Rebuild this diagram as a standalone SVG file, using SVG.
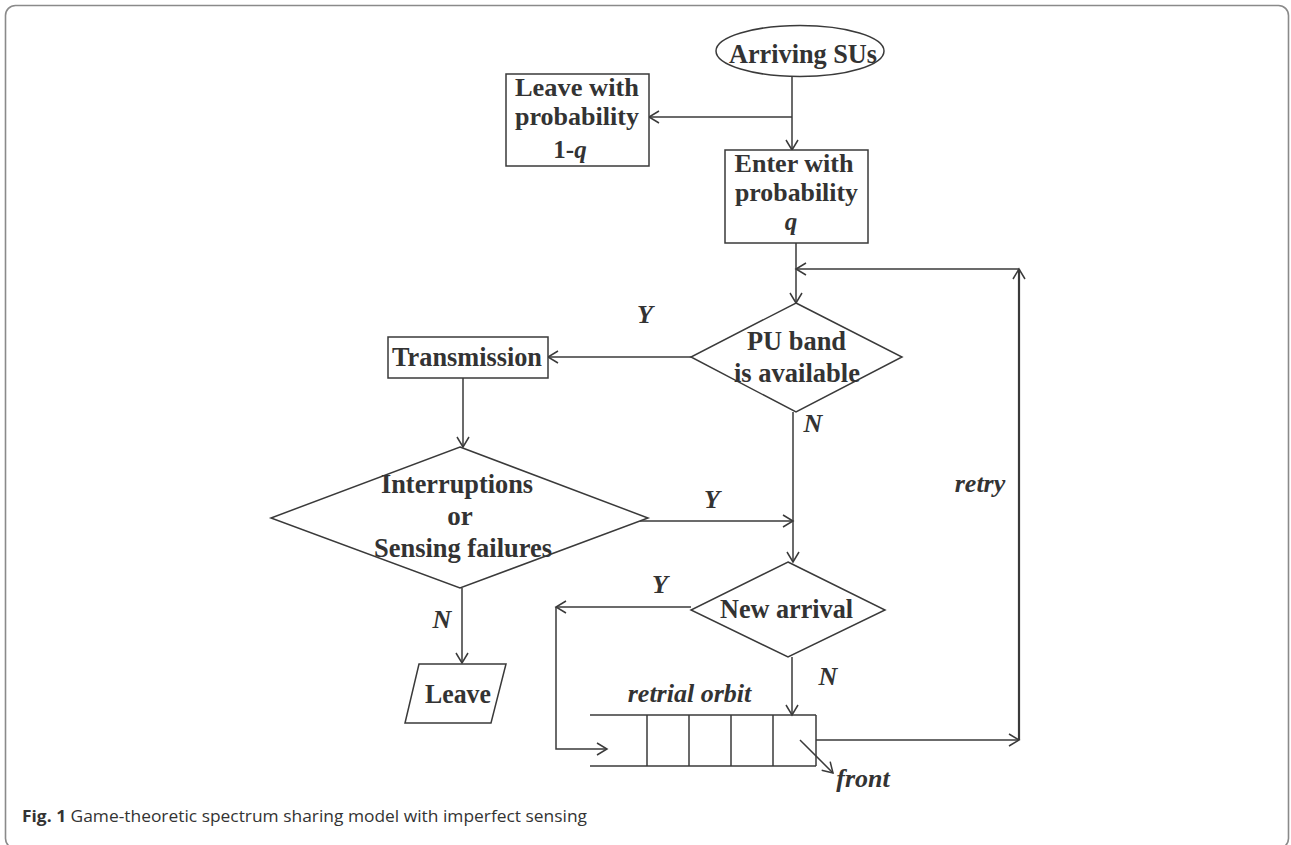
<svg xmlns="http://www.w3.org/2000/svg" width="1291" height="845" viewBox="0 0 1291 845">
<defs>
<marker id="arr" markerUnits="userSpaceOnUse" markerWidth="14" markerHeight="14" viewBox="0 0 14 14" refX="12" refY="7" orient="auto">
<path d="M2,1 L12,7 L2,13" fill="none" stroke="#3a3a3a" stroke-width="1.5"/>
</marker>
</defs>
<style>
.bg{fill:#fff}
.frame{fill:none;stroke:#8a8a8a;stroke-width:1.6}
.shape{fill:#fff;stroke:#3a3a3a;stroke-width:1.5}
.line{fill:none;stroke:#3a3a3a;stroke-width:1.5}
.thick{fill:none;stroke:#3a3a3a;stroke-width:2.2}
.t{font-family:"Liberation Serif","Times New Roman",serif;font-weight:bold;font-size:27px;fill:#333;text-anchor:middle}
.s{font-size:25px}
.l{font-family:"Liberation Serif","Times New Roman",serif;font-weight:bold;font-style:italic;font-size:26px;fill:#333;text-anchor:middle}
.cap{font-family:"Open Sans","Noto Sans","Liberation Sans",sans-serif;font-size:16.5px;fill:#333}
</style>
<rect class="bg" x="0" y="0" width="1291" height="845"/>
<rect class="frame" x="5.5" y="5.5" width="1283" height="843" rx="10" ry="10"/>

<g id="connectors">
<line class="line" x1="792" y1="77" x2="792" y2="150" marker-end="url(#arr)"/>
<line class="line" x1="792" y1="117" x2="649" y2="117" marker-end="url(#arr)"/>
<line class="line" x1="796" y1="243" x2="796" y2="303" marker-end="url(#arr)"/>
<line class="line" x1="816" y1="740" x2="1019" y2="740" marker-end="url(#arr)"/>
<line class="thick" x1="1019" y1="740" x2="1019" y2="269" marker-end="url(#arr)"/>
<line class="line" x1="1019" y1="269" x2="796" y2="269" marker-end="url(#arr)"/>
<line class="line" x1="691" y1="357" x2="548" y2="357" marker-end="url(#arr)"/>
<line class="line" x1="463" y1="378" x2="463" y2="447" marker-end="url(#arr)"/>
<line class="line" x1="793" y1="412" x2="793" y2="562" marker-end="url(#arr)"/>
<line class="line" x1="640" y1="521" x2="793" y2="521" marker-end="url(#arr)"/>
<line class="line" x1="462" y1="588" x2="462" y2="663" marker-end="url(#arr)"/>
<line class="line" x1="691" y1="607" x2="556" y2="607" marker-end="url(#arr)"/>
<polyline class="line" points="556,607 556,749 607,749" marker-end="url(#arr)"/>
<line class="line" x1="792" y1="657" x2="792" y2="715" marker-end="url(#arr)"/>
<line class="line" x1="800" y1="740" x2="833" y2="773" marker-end="url(#arr)"/>
</g>

<g id="arriving">
<ellipse class="shape" cx="800" cy="51" rx="84" ry="25.5"/>
<text class="t" x="803" y="63" textLength="148" lengthAdjust="spacingAndGlyphs">Arriving SUs</text>
</g>

<g id="leave-prob">
<rect class="shape" x="506" y="74" width="143" height="92"/>
<text class="t s" x="577" y="96" textLength="124" lengthAdjust="spacingAndGlyphs">Leave with</text>
<text class="t s" x="577" y="125" textLength="124" lengthAdjust="spacingAndGlyphs">probability</text>
<text class="t s" x="570" y="158">1-<tspan font-style="italic">q</tspan></text>
</g>

<g id="enter-prob">
<rect class="shape" x="725" y="150" width="143" height="93"/>
<text class="t s" x="794" y="172" textLength="119" lengthAdjust="spacingAndGlyphs">Enter with</text>
<text class="t s" x="796.5" y="201" textLength="123" lengthAdjust="spacingAndGlyphs">probability</text>
<text class="t s" x="791" y="230" font-style="italic">q</text>
</g>

<g id="pu-band">
<polygon class="shape" points="796,303 902,357 796,412 691,357"/>
<text class="t" x="796.5" y="350" textLength="99" lengthAdjust="spacingAndGlyphs">PU band</text>
<text class="t" x="797" y="382" textLength="126" lengthAdjust="spacingAndGlyphs">is available</text>
</g>

<g id="transmission">
<rect class="shape" x="388" y="337" width="160" height="41"/>
<text class="t" x="467" y="366" textLength="150" lengthAdjust="spacingAndGlyphs">Transmission</text>
</g>

<g id="interruptions">
<polygon class="shape" points="460,447 648,518 460,588 271,518"/>
<text class="t" x="457" y="493" textLength="152" lengthAdjust="spacingAndGlyphs">Interruptions</text>
<text class="t" x="460" y="525">or</text>
<text class="t" x="463" y="557" textLength="178" lengthAdjust="spacingAndGlyphs">Sensing failures</text>
</g>

<g id="new-arrival">
<polygon class="shape" points="788,562 885,610 788,657 691,610"/>
<text class="t" x="786.5" y="618" textLength="133" lengthAdjust="spacingAndGlyphs">New arrival</text>
</g>

<g id="leave">
<polygon class="shape" points="419,664 506,664 491,723 405,723"/>
<text class="t" x="458" y="703" textLength="66" lengthAdjust="spacingAndGlyphs">Leave</text>
</g>

<g id="retrial-orbit">
<line class="line" x1="590" y1="715" x2="816" y2="715"/>
<line class="line" x1="590" y1="766" x2="816" y2="766"/>
<line class="line" x1="816" y1="715" x2="816" y2="766"/>
<line class="line" x1="647" y1="715" x2="647" y2="766"/>
<line class="line" x1="689" y1="715" x2="689" y2="766"/>
<line class="line" x1="731" y1="715" x2="731" y2="766"/>
<line class="line" x1="773" y1="715" x2="773" y2="766"/>
<text class="l" x="689.5" y="702">retrial orbit</text>
</g>

<g id="labels">
<text class="l" x="645" y="323">Y</text>
<text class="l" x="813" y="432">N</text>
<text class="l" x="712" y="508">Y</text>
<text class="l" x="980" y="492">retry</text>
<text class="l" x="660" y="593">Y</text>
<text class="l" x="442" y="628">N</text>
<text class="l" x="828" y="685">N</text>
<text class="l" x="863" y="787">front</text>
</g>

<g id="caption">
<text class="cap" x="22" y="822" textLength="565" lengthAdjust="spacingAndGlyphs"><tspan font-weight="bold">Fig. 1</tspan> Game-theoretic spectrum sharing model with imperfect sensing</text>
</g>
</svg>
